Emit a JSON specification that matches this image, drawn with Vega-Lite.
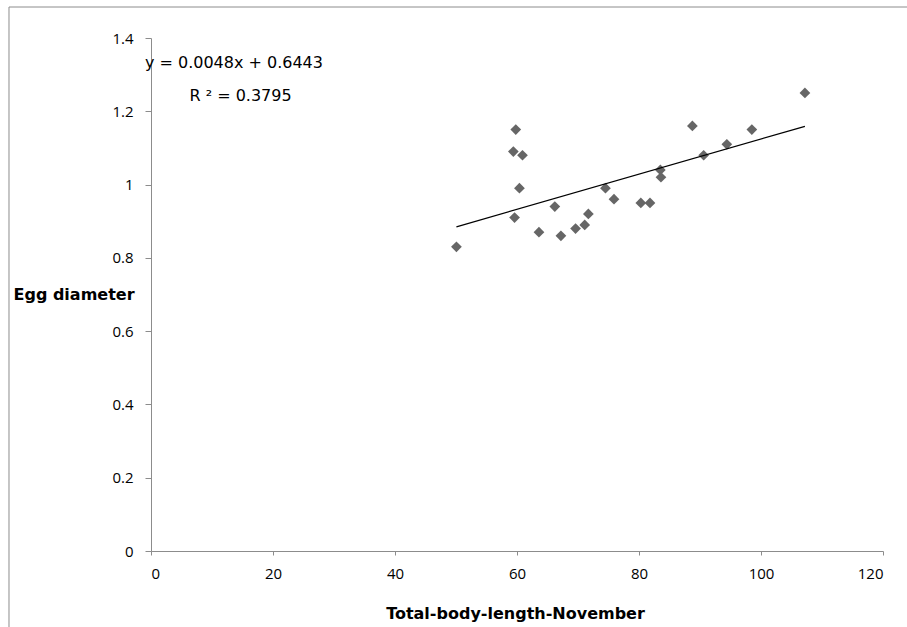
{
  "$schema": "https://vega.github.io/schema/vega-lite/v6.json",
  "autosize": "none",
  "width": 732,
  "height": 513,
  "padding": {"left": 151, "top": 38, "right": 24, "bottom": 76},
  "background": "white",
  "config": {
    "view": {"stroke": null},
    "font": "Open Sans",
    "axis": {
      "grid": false,
      "domainColor": "#8c8c8c",
      "tickColor": "#8c8c8c",
      "labelColor": "#000000",
      "labelFont": "Open Sans",
      "labelFontSize": 15,
      "titleFont": "DejaVu Sans",
      "titleFontWeight": "bold",
      "titleFontSize": 16,
      "titleColor": "#000000"
    }
  },
  "datasets": {
    "points": [
      {"length": 50.07, "diameter": 0.83},
      {"length": 59.8, "diameter": 1.15},
      {"length": 59.4, "diameter": 1.09},
      {"length": 60.9, "diameter": 1.08},
      {"length": 60.4, "diameter": 0.99},
      {"length": 59.6, "diameter": 0.91},
      {"length": 63.6, "diameter": 0.87},
      {"length": 66.2, "diameter": 0.94},
      {"length": 67.2, "diameter": 0.86},
      {"length": 69.6, "diameter": 0.88},
      {"length": 71.1, "diameter": 0.89},
      {"length": 71.7, "diameter": 0.92},
      {"length": 74.5, "diameter": 0.99},
      {"length": 75.9, "diameter": 0.96},
      {"length": 80.3, "diameter": 0.95},
      {"length": 81.8, "diameter": 0.95},
      {"length": 83.5, "diameter": 1.04},
      {"length": 83.6, "diameter": 1.02},
      {"length": 88.75, "diameter": 1.16},
      {"length": 90.6, "diameter": 1.08},
      {"length": 94.4, "diameter": 1.11},
      {"length": 98.5, "diameter": 1.15},
      {"length": 107.2, "diameter": 1.25}
    ],
    "trend": [
      {"length": 50.07, "diameter": 0.8846},
      {"length": 107.2, "diameter": 1.1589}
    ],
    "labels": [
      {"length": -1.0, "diameter": 1.331, "text": "y = 0.0048x + 0.6443"},
      {"length": 6.3, "diameter": 1.243, "text": "R ² = 0.3795"}
    ],
    "frame": [
      {"x1": -23.28, "x2": 125, "y1": 1.4846, "y2": 1.4846},
      {"x1": -23.28, "x2": -23.28, "y1": 1.4846, "y2": -0.25}
    ]
  },
  "layer": [
    {
      "data": {"name": "frame"},
      "mark": {"type": "rule", "color": "#8c8c8c", "strokeWidth": 1, "clip": false},
      "encoding": {
        "x": {"field": "x1", "type": "quantitative"},
        "x2": {"field": "x2"},
        "y": {"field": "y1", "type": "quantitative"},
        "y2": {"field": "y2"}
      }
    },
    {
      "data": {"name": "points"},
      "mark": {"type": "point", "shape": "diamond", "filled": true, "size": 115, "color": "#666666", "opacity": 1},
      "encoding": {
        "x": {
          "field": "length",
          "type": "quantitative",
          "scale": {"domain": [0, 120], "nice": false, "zero": false},
          "axis": {
            "title": "Total-body-length-November",
            "values": [0, 20, 40, 60, 80, 100, 120],
            "format": "~g",
            "tickSize": 4,
            "labelPadding": 11,
            "titleX": 364,
            "titleY": 62,
            "titleBaseline": "middle",
            "titleAnchor": null,
            "titleAlign": "center"
          }
        },
        "y": {
          "field": "diameter",
          "type": "quantitative",
          "scale": {"domain": [0, 1.4], "nice": false, "zero": false},
          "axis": {
            "title": "Egg diameter",
            "values": [0, 0.2, 0.4, 0.6, 0.8, 1, 1.2, 1.4],
            "format": "~g",
            "tickSize": 6,
            "labelPadding": 12,
            "titleAngle": 0,
            "titleX": -138,
            "titleY": 256,
            "titleAlign": "left",
            "titleBaseline": "middle",
            "titleAnchor": null
          }
        }
      }
    },
    {
      "data": {"name": "trend"},
      "mark": {"type": "line", "color": "#000000", "strokeWidth": 1.2},
      "encoding": {
        "x": {"field": "length", "type": "quantitative"},
        "y": {"field": "diameter", "type": "quantitative"}
      }
    },
    {
      "data": {"name": "labels"},
      "mark": {"type": "text", "align": "left", "baseline": "middle", "fontSize": 16, "font": "DejaVu Sans", "color": "#000000", "clip": false},
      "encoding": {
        "x": {"field": "length", "type": "quantitative"},
        "y": {"field": "diameter", "type": "quantitative"},
        "text": {"field": "text"}
      }
    }
  ]
}
